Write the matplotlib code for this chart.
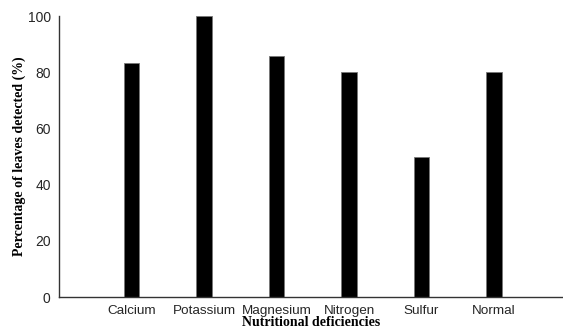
import matplotlib
matplotlib.use("Agg")
import matplotlib.pyplot as plt

categories = ["Calcium", "Potassium", "Magnesium", "Nitrogen", "Sulfur", "Normal"]
detected = [83.3, 100, 85.7, 80, 50, 80]

fig = plt.figure(figsize=(5.63, 3.32), dpi=100)
ax = fig.add_axes([0.1048, 0.1054, 0.8952, 0.8464])

x = list(range(1, len(categories) + 1))
ax.bar(x, detected, width=0.21, color="black", edgecolor="#777777", linewidth=0.6)

ax.set_xlim(0, 6.95)
ax.set_ylim(0, 100)
ax.set_xticks(x)
ax.set_xticklabels(categories, fontsize=9.7, family="Liberation Sans")
ax.set_yticks([0, 20, 40, 60, 80, 100])
ax.set_yticklabels(["0", "20", "40", "60", "80", "100"], fontsize=10, family="Liberation Sans")
ax.tick_params(axis="both", length=0, pad=6, colors="#262626")

for side in ["top", "right"]:
    ax.spines[side].set_visible(False)
for side in ["left", "bottom"]:
    ax.spines[side].set_color("#333333")
    ax.spines[side].set_linewidth(1.0)

ax.set_xlabel("Nutritional deficiencies", fontsize=10, family="Liberation Serif",
              fontweight="bold", labelpad=-1)
ax.set_ylabel("Percentage of leaves detected (%)", fontsize=10, family="Liberation Serif",
              fontweight="bold", labelpad=1)

fig.savefig("out.png", dpi=100)
